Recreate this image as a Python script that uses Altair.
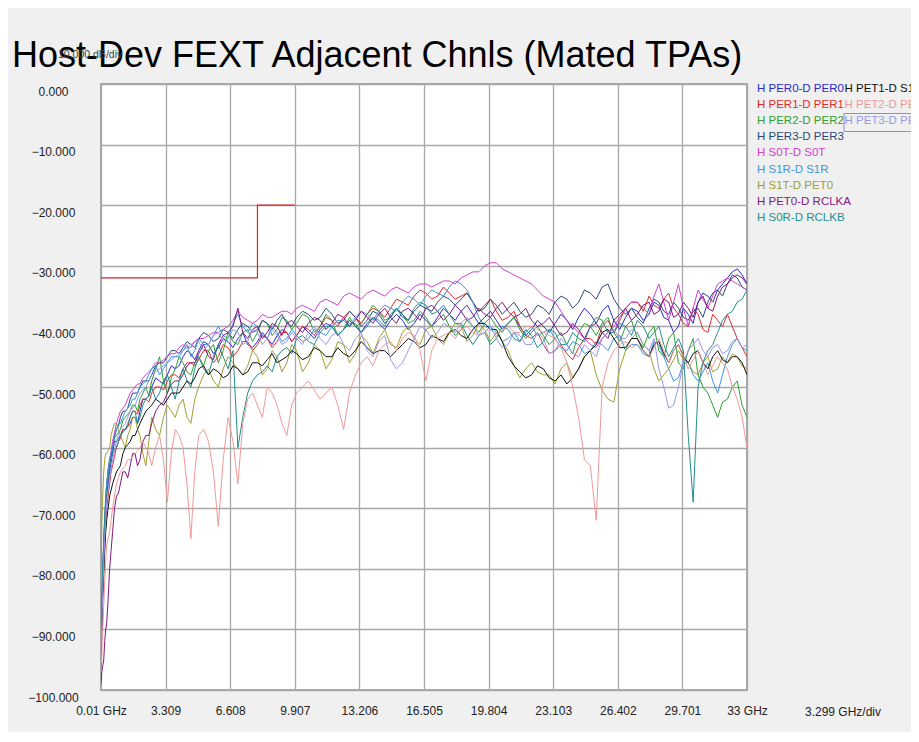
import altair as alt
import pandas as pd

TITLE = "Host-Dev FEXT Adjacent Chnls (Mated TPAs)"
SCALE_NOTE = "10.000 dB/div"
X_NOTE = "3.299 GHz/div"

FREQ = [0.01, 0.1, 0.2, 0.3, 0.45, 0.6, 0.8, 1.0, 1.25, 1.5,
        1.75, 2.0, 2.3, 2.6, 3.0, 3.4, 3.8, 4.2, 4.6, 5.0,
        5.5, 6.0, 6.5, 7.0, 7.5, 8.0, 8.5, 9.0, 9.5, 10.0,
        10.6, 11.2, 11.8, 12.4, 13.0, 13.6, 14.2, 14.8, 15.4, 16.0,
        16.6, 17.2, 17.8, 18.4, 19.0, 19.6, 20.2, 20.8, 21.4, 22.0,
        22.6, 23.2, 23.8, 24.4, 25.0, 25.6, 26.2, 26.8, 27.4, 28.0,
        28.5, 29.0, 29.5, 30.0, 30.5, 31.0, 31.5, 32.0, 32.5, 33.0]
FREQ_MID = [0.05, 0.15, 0.25, 0.375, 0.525, 0.7, 0.9, 1.125, 1.375, 1.625,
            1.875, 2.15, 2.45, 2.8, 3.2, 3.6, 4.0, 4.4, 4.8, 5.25,
            5.75, 6.25, 6.75, 7.25, 7.75, 8.25, 8.75, 9.25, 9.75, 10.3,
            10.9, 11.5, 12.1, 12.7, 13.3, 13.9, 14.5, 15.1, 15.7, 16.3,
            16.9, 17.5, 18.1, 18.7, 19.3, 19.9, 20.5, 21.1, 21.7, 22.3,
            22.9, 23.5, 24.1, 24.7, 25.3, 25.9, 26.5, 27.1, 27.7, 28.25,
            28.75, 29.25, 29.75, 30.25, 30.75, 31.25, 31.75, 32.25, 32.75]

SERIES = ["H PER0-D PER0", "H PER1-D PER1", "H PER2-D PER2", "H PER3-D PER3",
          "H S0T-D S0T", "H S1R-D S1R", "H S1T-D PET0", "H PET0-D RCLKA",
          "H S0R-D RCLKB", "H PET1-D S1T", "H PET2-D PET2", "H PET3-D PET3"]
COLORS = ["#2a2acc", "#e02a2a", "#30a030", "#2a4a7a",
          "#d040d0", "#3c96dc", "#a0a030", "#801880",
          "#20908c", "#111111", "#f09898", "#9898e8"]

PER0 = [-96, -83, -74, -68, -64, -61, -59, -58, -57, -56,
        -55, -54, -52, -50, -49, -48, -47, -45, -44.5, -44,
        -43, -43.5, -42.5, -42, -43, -42.5, -42, -41.5, -41, -41.5,
        -41, -40.5, -40, -40.5, -40, -39.5, -39.5, -39, -39, -39.5,
        -39, -38.5, -38, -37.5, -38, -38.5, -39, -39.5, -40, -40.5,
        -40, -39.5, -39, -38.5, -38, -37.5, -39, -38.5, -37.5, -38,
        -36.5, -39, -40, -38, -36, -35, -34, -32, -30.5, -33]
PER0_MID = [-88, -78, -71, -66, -62.5, -59, -58.5, -57, -56.5, -55,
            -56, -52, -51.5, -48.5, -49.5, -46.5, -46.5, -44, -45.5, -42.5,
            -44.5, -42, -43.5, -41, -43.5, -41, -43, -40.5, -42.5, -40,
            -42, -39.5, -41.5, -39, -41, -38.5, -40.5, -38, -40.5, -38,
            -40, -37, -39, -36.5, -39.5, -37.5, -40.5, -38.5, -41.5, -39,
            -41, -38, -40.5, -37, -39.5, -36.5, -40.5, -37, -39, -36,
            -38.5, -41, -37, -39.5, -34.5, -36, -33, -31, -31.5]
PER1 = [-97, -84, -76, -70, -66, -63, -60, -58.5, -57, -55,
        -54, -53, -52, -51, -50, -49, -48, -47, -46, -45.5,
        -44, -45, -43.5, -44, -42.5, -43, -42, -42.5, -41, -41.5,
        -40.5, -40, -39, -38.5, -38.5, -38, -37.5, -37, -36, -35,
        -34.5, -35, -34.5, -35, -36, -36.5, -37.5, -38.5, -40, -42,
        -43, -44, -44.5, -43.5, -42, -40, -41, -37, -36, -35,
        -37, -34.5, -38, -40, -38, -41, -39, -38, -42, -45]
PER1_MID = [-90, -80, -73, -68, -64, -61.5, -59, -57, -56.5, -54,
            -54.5, -52, -52.5, -50, -50.5, -48, -48.5, -46, -46.5, -44,
            -46, -43, -45, -42.5, -44, -41.5, -43.5, -41, -42.5, -40,
            -41.5, -38.5, -40, -37.5, -39.5, -37, -38.5, -35.5, -36.5, -34,
            -35.5, -33.5, -35.5, -34.5, -37.5, -35.5, -39, -37.5, -41.5, -41,
            -44.5, -43, -45.5, -42, -43, -39, -39, -36, -37.5, -36.5,
            -35.5, -37, -39.5, -37, -40.5, -38, -40, -40, -43.5]
PER2 = [-95, -82, -72, -66, -62, -60, -58, -57, -55, -54,
        -53, -52, -50, -49, -45, -51, -47, -46, -48, -45,
        -44, -46, -41, -43, -40.5, -41, -39.5, -40.5, -39, -39.5,
        -38.5, -40, -39, -40.5, -40, -38, -37.5, -38.5, -38, -39,
        -38.5, -39, -40, -40.5, -40, -39.5, -40, -39.5, -40.5, -41,
        -41.5, -42, -43, -41, -40, -39.5, -41, -40, -42, -41,
        -44, -42, -46, -44, -48, -51, -55, -52, -49, -55]
PER2_MID = [-87, -76, -69, -63.5, -61, -58.5, -57.5, -55.5, -54.5, -53,
            -54, -51, -51.5, -47, -49, -48.5, -45, -47.5, -46, -46.5,
            -43, -44, -42.5, -41, -42.5, -39, -41.5, -38.5, -40.5, -38,
            -41, -38, -41.5, -38.5, -39.5, -36.5, -39, -37, -39.5, -37.5,
            -40, -38, -41.5, -39, -41, -38.5, -41, -38.5, -42, -40,
            -43, -41, -44.5, -39.5, -41.5, -38.5, -42.5, -39, -43.5, -40,
            -45, -41, -47, -42, -50, -53, -52.5, -50, -53]
PER3 = [-95, -82, -73, -67, -63, -60, -57, -55, -54, -52,
        -51, -50, -49, -48, -46, -45, -44, -43.5, -43, -42,
        -41.5, -42, -41, -40.5, -40, -40.5, -39.5, -39, -39.5, -38.5,
        -38, -38.5, -38, -39, -38.5, -39, -38, -38.5, -38, -37.5,
        -37, -36, -35.5, -35.5, -36, -37, -36.5, -37, -37.5, -38,
        -37, -36, -35.5, -36, -34.5, -33.5, -35.5, -38, -38.5, -37,
        -36, -38, -37, -39, -37, -36, -34, -33, -32, -34]
PER3_MID = [-88, -77, -70, -65, -61.5, -58, -56.5, -54, -53.5, -51,
            -51, -49, -49, -46.5, -46, -44, -44.5, -42.5, -43.5, -41,
            -42.5, -40.5, -42, -39.5, -41, -39, -40.5, -38, -40, -37.5,
            -39, -37, -39.5, -37.5, -40, -37.5, -39.5, -37, -39, -36.5,
            -37.5, -35, -36.5, -34.5, -37.5, -35.5, -38, -36, -38.5, -36.5,
            -38, -35, -37, -34, -35.5, -33, -37, -37, -39.5, -35.5,
            -37.5, -36, -38.5, -37.5, -38.5, -34.5, -35, -31.5, -33.5]
S0T = [-90, -80, -72, -66, -62, -59, -56, -54, -53, -51,
       -50, -49.5, -48, -47, -46, -45, -44.5, -43, -43.5, -42,
       -41.5, -41, -40, -37.5, -39, -39, -38.5, -38, -37.5, -37,
       -37, -36, -36, -35, -35, -34.5, -34.5, -34, -34, -33.5,
       -33, -33, -32.5, -32, -31, -30, -29.5, -31, -32, -33,
       -35, -36, -39, -41, -43, -42, -40, -37, -36, -38,
       -33, -39, -33, -40, -34, -37, -33, -32, -33, -34]
S0T_MID = [-85, -76, -69, -64, -60.5, -57.5, -55, -53.5, -52, -50.5,
           -49.5, -48.5, -47.5, -46, -45.5, -44.5, -43.5, -43.5, -42.5, -42,
           -41, -40.5, -39, -38.5, -39.5, -38, -38.5, -37.5, -38, -36.5,
           -37.5, -35.5, -36.5, -34.5, -35.5, -34, -35, -33.5, -34.5, -33,
           -33.5, -32.5, -33, -31.5, -31, -29.5, -30.5, -31.5, -32.5, -34,
           -35.5, -37.5, -40, -42, -43.5, -41, -38.5, -36, -37, -35,
           -36, -36, -37, -37, -35.5, -35, -32.5, -32.5, -33.5]
S1R = [-93, -80, -71, -66, -62, -60, -57, -56, -54, -53,
       -52, -50, -49, -47, -48, -46, -45, -44, -45, -42,
       -43, -40, -42, -38, -41, -40, -42, -41, -42, -41.5,
       -42, -41, -40, -39, -38.5, -38, -37.5, -37, -36, -35.5,
       -35, -34.5, -33.5, -33, -36, -40, -41, -42, -42.5, -40,
       -41, -42, -44, -43, -44, -43, -42, -44, -43, -45,
       -43, -47, -48.5, -46, -49, -46, -51, -45, -42, -44]
S1R_MID = [-86, -75, -68, -64, -61, -58.5, -56, -55, -53.5, -52,
           -51, -49.5, -48, -46.5, -47, -45, -45, -43, -44, -43,
           -41.5, -41.5, -39.5, -40, -39.5, -41.5, -40, -42.5, -40.5, -42.5,
           -40.5, -41.5, -39, -40, -37.5, -39, -36.5, -37.5, -35, -36.5,
           -34, -35, -32.5, -34, -38.5, -40, -42.5, -41, -41, -41.5,
           -40.5, -43.5, -42.5, -44.5, -42.5, -44, -41.5, -43, -44.5, -42.5,
           -45, -49, -46, -48, -47.5, -49, -48, -43, -43.5]
S1T = [-80, -68, -62, -61, -60, -57, -56, -58, -60, -57,
       -55, -58, -63, -55, -58, -53, -55, -52, -56, -50,
       -47, -50, -45, -47, -46.5, -45, -47, -45, -46, -44,
       -46, -44, -45.5, -43, -44.5, -42.5, -42, -43, -41, -42,
       -40.5, -42, -41, -40, -41.5, -40.5, -41, -44, -48.5, -46,
       -48, -49.5, -46, -47, -44, -50.5, -52.5, -44, -41, -44,
       -49, -47, -44, -46, -48, -45, -47, -46, -45, -47]
S1T_MID = [-73, -64, -61, -60.5, -58, -56, -57, -59, -58, -55,
           -57, -61, -59, -57, -55, -54, -53, -55, -52, -48,
           -49, -47, -46, -48, -44, -48, -44, -47.5, -43, -47.5,
           -43, -47, -42.5, -46, -41.5, -44.5, -40.5, -43.5, -40, -43,
           -40, -43, -39.5, -42.5, -39.5, -42.5, -42.5, -46.5, -47, -47.5,
           -48, -47, -48.5, -45, -48, -52, -47, -42, -43, -47,
           -48, -45.5, -45.5, -47.5, -46, -47.5, -45, -44.5, -46.5]
PET0 = [-99, -96, -92, -89, -80, -74, -68, -66, -64, -63,
        -61, -62, -58, -56, -53, -51, -49, -48, -46, -44.5,
        -45, -43, -41, -37, -42, -40, -41, -40, -39.5, -40,
        -39.5, -39, -39.5, -38.5, -39, -38.5, -38, -38.5, -37.5, -38,
        -37, -37.5, -38, -37.5, -38.5, -38, -37, -37.5, -38, -39,
        -39.5, -40, -41, -40.5, -40, -41, -39, -37, -38, -36,
        -37.5, -36, -38, -37, -36, -37, -35, -33, -31.5, -33]
PET0_MID = [-97, -95, -90, -85, -77, -70, -67.5, -64, -65, -61,
            -63, -59, -58, -54, -52.5, -49.5, -49, -46.5, -46, -43,
            -45.5, -41.5, -40, -41, -40.5, -42, -39.5, -41.5, -39, -41,
            -38.5, -40.5, -38, -40, -37.5, -39.5, -37, -39.5, -37, -39,
            -36.5, -39, -36.5, -39, -37, -38.5, -36, -38.5, -37, -40,
            -38.5, -41.5, -39.5, -42, -39.5, -42, -38, -39, -36.5, -38,
            -35.5, -38.5, -36, -38.5, -35, -37.5, -33.5, -32, -32]
S0R = [-94, -80, -72, -67, -63, -61, -60, -58, -57, -55,
       -54, -55, -52, -50, -51, -48, -52, -47, -50, -45,
       -48, -43, -47, -60, -51, -48, -46.5, -45, -43.5, -42,
       -42.5, -41, -40, -40.5, -39.5, -40, -39, -38, -38.5, -37,
       -36.5, -37.5, -38, -39.5, -43, -41, -42, -40.5, -42.5, -41.5,
       -42.5, -41, -43, -42, -40, -39, -41, -40, -39, -42,
       -40, -45, -42, -58, -50, -44, -41, -38, -36, -34]
S0R_MID = [-86, -75, -69, -65, -62, -60.5, -59, -57.5, -56, -54,
           -56, -53, -51.5, -52, -49, -50, -49, -49, -47, -47,
           -45, -45, -44, -55, -49, -47.5, -47.5, -44, -44.5, -41.5,
           -43, -40, -41.5, -39.5, -41, -38.5, -40, -37, -39, -36,
           -38, -36.5, -39.5, -41.5, -41.5, -43, -40, -42, -40.5, -43.5,
           -40.5, -43, -41, -42.5, -38.5, -41, -39.5, -41.5, -40, -41,
           -43, -43.5, -44, -69, -46, -43, -39, -37.5, -35.5]
PET1 = [-96, -85, -77, -72, -68, -66, -64, -63, -60, -59,
        -58, -56, -54, -53, -52.5, -52, -51, -50, -49.5, -47,
        -48, -47.5, -48, -47, -47.5, -46, -45.5, -46, -45, -44.5,
        -45, -44, -45, -44.5, -44, -43.5, -44, -45, -43, -42.5,
        -43, -42, -41, -41.5, -40.5, -39.5, -40.5, -45, -47.5, -48,
        -47, -49, -49.5, -47, -44, -41, -42, -43.5, -42, -45,
        -42.5, -46, -43, -46, -44, -47, -44, -46, -45, -48]
PET1_MID = [-90, -81, -74, -70, -67, -65, -63.5, -61, -59.5, -58,
            -57, -55, -53.5, -52, -53, -51, -51, -49, -48.5, -46.5,
            -47, -48.5, -46.5, -48, -46, -46.5, -44.5, -45.5, -44, -45.5,
            -43.5, -45, -43.5, -45, -42.5, -44.5, -44, -44, -42, -43.5,
            -41.5, -42.5, -40.5, -42, -39.5, -40.5, -42.5, -46.5, -48.5, -46.5,
            -48.5, -48, -48.5, -45, -43, -40.5, -43.5, -42, -44, -43,
            -44.5, -44, -45, -44.5, -46, -45, -45.5, -45, -46]
PET2 = [-97, -90, -82, -76, -74, -70, -66, -64, -63, -62,
        -61, -60, -60, -63, -58, -69, -57, -60, -75, -58,
        -59, -73, -55, -66, -52, -53, -50, -53, -58, -51,
        -49, -52, -50, -57, -48, -45, -44, -42.5, -42, -41.5,
        -49, -42, -41, -40.5, -41, -40, -41.5, -40, -41, -40,
        -41, -42, -46, -55, -63, -50, -44, -42.5, -43, -45,
        -42, -46, -43, -47, -44, -48, -45, -47, -52, -60]
PET2_MID = [-94, -86, -79, -75, -72, -68, -65, -63.5, -62, -61.5,
            -60.5, -59, -61, -60, -62, -61, -58, -66, -64, -57,
            -64, -62, -59, -56, -51, -55, -51, -56, -53, -50,
            -50.5, -51, -53, -51, -46, -46.5, -43, -44, -41, -44,
            -44, -41.5, -42, -40, -41.5, -40.5, -40.5, -41, -40, -40.5,
            -41.5, -43.5, -50, -62, -72, -46, -43, -43.5, -44, -43.5,
            -44, -44, -45, -45.5, -46, -46.5, -46, -50, -55]
PET3 = [-95, -84, -75, -69, -65, -62, -59, -57, -56, -54,
        -53, -51, -50, -48, -47, -46, -45, -44, -43, -42.5,
        -43, -41, -42, -41, -42.5, -41, -42, -41.5, -42.5, -42,
        -41, -42, -41.5, -43, -42, -44, -42.5, -45.5, -46, -42,
        -40.5, -41, -40, -39.5, -40, -41, -42, -43, -41.5, -43,
        -42, -44, -43, -45, -44, -42, -40.5, -42, -41, -44,
        -47, -53.5, -50, -44, -42, -45, -43, -44, -42, -43]
PET3_MID = [-89, -79, -72, -67, -63.5, -60.5, -58, -56.5, -55, -53.5,
            -52, -50.5, -49, -47.5, -46.5, -45.5, -44.5, -43.5, -42.5, -44,
            -41.5, -42.5, -40.5, -43, -40.5, -43, -40.5, -43, -41, -43,
            -40, -43, -41, -44, -41, -45, -41.5, -47, -44, -40,
            -42, -39.5, -41, -38.5, -41.5, -40, -43.5, -41, -43, -41,
            -44.5, -42, -44.5, -43, -45, -41, -42, -40.5, -43, -42,
            -50, -53, -46, -43, -44, -43.5, -44.5, -42.5, -43.5]

VALUES = [PER0, PER1, PER2, PER3, S0T, S1R, S1T, PET0, S0R, PET1, PET2, PET3]
VALUES_MID = [PER0_MID, PER1_MID, PER2_MID, PER3_MID, S0T_MID, S1R_MID, S1T_MID,
              PET0_MID, S0R_MID, PET1_MID, PET2_MID, PET3_MID]

LIMIT_F = [0.01, 8.0, 8.0, 9.907]
LIMIT_DB = [-32, -32, -20, -20]

X_TICKS = [0.01, 3.309, 6.608, 9.907, 13.206, 16.505, 19.804, 23.103, 26.402, 29.701, 33.0]
Y_TICKS = [-100, -90, -80, -70, -60, -50, -40, -30, -20, -10, 0]

rows = []
for name, vals, mids in zip(SERIES, VALUES, VALUES_MID):
    pts = list(zip(FREQ, vals)) + list(zip(FREQ_MID, mids))
    pts.sort(key=lambda p: p[0])
    for f, v in pts:
        rows.append({"series": name, "f": f, "db": v})
df = pd.DataFrame(rows)

lim = pd.DataFrame({"f": LIMIT_F, "db": LIMIT_DB, "o": list(range(len(LIMIT_F)))})

FONT = "Liberation Sans"
W, H = 646, 606

x_scale = alt.Scale(domain=[0.01, 33], nice=False, zero=False)
y_scale = alt.Scale(domain=[-100, 0], nice=False, zero=False)
color_scale = alt.Scale(domain=SERIES, range=COLORS)

x_axis = alt.Axis(values=X_TICKS, grid=True, ticks=False, domain=False, title=None,
                  labelExpr="datum.value < 0.02 ? '0.01 GHz' : (datum.value > 32.9 ? '33 GHz' : format(datum.value, '.3f'))",
                  labelPadding=15, labelFlush=False, labelOverlap=False,
                  labelFontSize=12, labelFont=FONT, labelColor="#222222")
y_axis = alt.Axis(values=Y_TICKS, grid=True, ticks=False, domain=False, title=None,
                  format=".3f", labelAlign="center", labelPadding=48, labelOffset=7,
                  labelFlush=False, labelOverlap=False,
                  labelFontSize=12, labelFont=FONT, labelColor="#222222")

lines = alt.Chart(df).mark_line(strokeWidth=1, clip=True).encode(
    x=alt.X("f:Q", scale=x_scale, axis=x_axis),
    y=alt.Y("db:Q", scale=y_scale, axis=y_axis),
    color=alt.Color("series:N", scale=color_scale, legend=None),
)

limit = alt.Chart(lim).mark_line(strokeWidth=1.2, color="#e02020").encode(
    x=alt.X("f:Q", scale=x_scale),
    y=alt.Y("db:Q", scale=y_scale),
    order="o:Q",
)

one = pd.DataFrame({"k": [0]})
title = alt.Chart(one).mark_text(text=TITLE, fontSize=36, font=FONT, align="left",
                                 baseline="alphabetic", color="#000000").encode(
    x=alt.value(-89), y=alt.value(-17))
note = alt.Chart(one).mark_text(text=SCALE_NOTE, fontSize=10.5, font=FONT, align="left",
                                baseline="middle", color="#444444").encode(
    x=alt.value(-43), y=alt.value(-29))
xnote = alt.Chart(one).mark_text(text=X_NOTE, fontSize=12, font=FONT, align="center",
                                 baseline="middle", color="#222222").encode(
    x=alt.value(742), y=alt.value(628))

legend_layers = []
for i, (name, col) in enumerate(zip(SERIES, COLORS)):
    if i < 9:
        lx, ly = 656, 5 + i * 16.1
    else:
        lx, ly = 743.5, 5 + (i - 9) * 16.1
    legend_layers.append(
        alt.Chart(one).mark_text(text=name, fontSize=11.5, font=FONT, align="left",
                                 baseline="middle", color=col).encode(
            x=alt.value(lx), y=alt.value(ly))
    )

sel_box = alt.Chart(one).mark_rect(filled=False, stroke="#8c8cdc", strokeWidth=1).encode(
    x=alt.value(743), x2=alt.value(840), y=alt.value(29.5), y2=alt.value(47.5))

chart = alt.layer(lines, limit, title, note, xnote, sel_box, *legend_layers).properties(
    width=W, height=H,
    padding={"left": 93, "top": 76, "right": 164, "bottom": 42},
    autosize=alt.AutoSizeParams(type="none"),
    background="#f0f0f0",
).configure_view(
    fill="white", stroke="#8c8c8c", strokeWidth=1.5
).configure_axis(
    gridColor="#a8a8a8", gridWidth=1.3, gridOpacity=1
)

chart.save("out.html", embed_options={"renderer": "svg", "actions": False})
